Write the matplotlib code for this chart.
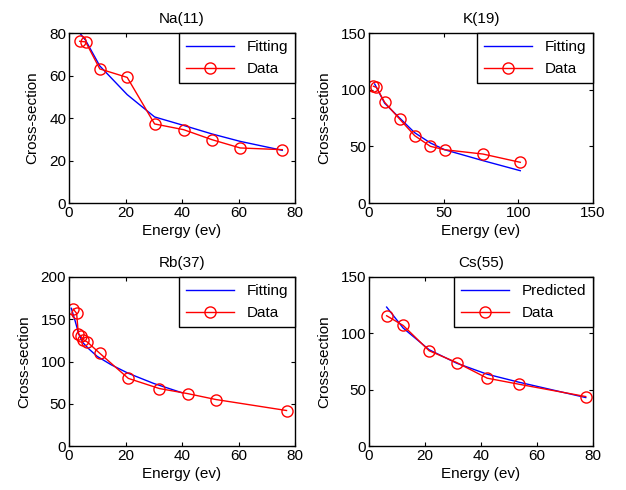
import matplotlib
matplotlib.use("Agg")
import matplotlib.pyplot as plt

plt.rcParams['font.family'] = ['Liberation Sans', 'DejaVu Sans']

# Na(11)
na_data_x = [3.8, 5.9, 10.9, 20.6, 30.3, 40.6, 50.6, 60.6, 75.5]
na_data_y = [76.1, 75.8, 63.1, 59.1, 37.2, 34.5, 29.8, 25.9, 25.1]
na_fit_x = [3.8, 5.9, 10.9, 20.6, 30.3, 40.6, 50.6, 60.6, 75.5]
na_fit_y = [80.0, 76.5, 64.5, 51.0, 40.5, 36.5, 32.5, 29.0, 24.8]

# K(19)
k_data_x = [3.0, 5.0, 10.5, 20.5, 30.6, 41.1, 50.7, 76.3, 101.3]
k_data_y = [103.0, 102.0, 88.8, 74.1, 59.4, 50.0, 47.0, 43.2, 35.9]
k_fit_x = [3.8, 10.5, 20.5, 30.6, 41.1, 50.7, 76.3, 101.3]
k_fit_y = [105.0, 88.0, 75.0, 62.0, 53.0, 47.0, 37.4, 28.5]

# Rb(37)
rb_data_x = [1.5, 2.7, 3.3, 4.2, 5.0, 6.5, 10.8, 21.0, 32.0, 42.0, 52.0, 77.0]
rb_data_y = [162, 157, 133, 130, 126, 123, 110, 80, 68, 62, 55, 42]
rb_fit_x = [0.8, 2.0, 3.5, 5.0, 7.0, 10.0, 15.0, 21.0, 30.0, 40.0]
rb_fit_y = [163, 150, 132, 122, 115, 106, 96, 86, 74, 63]

# Cs(55)
cs_data_x = [6.3, 12.2, 21.5, 31.3, 42.2, 53.6, 77.4]
cs_data_y = [115.6, 107.0, 84.5, 74.1, 60.2, 54.8, 43.9]
cs_pred_x = [6.3, 12.2, 21.5, 31.3, 42.2, 53.6, 77.4]
cs_pred_y = [123.3, 104.7, 85.4, 73.5, 63.7, 56.6, 43.0]

panels = [
    ("Na(11)", na_fit_x, na_fit_y, na_data_x, na_data_y, "Fitting", (0, 80), [0, 20, 40, 60, 80], (0, 80), [0, 20, 40, 60, 80]),
    ("K(19)", k_fit_x, k_fit_y, k_data_x, k_data_y, "Fitting", (0, 150), [0, 50, 100, 150], (0, 150), [0, 50, 100, 150]),
    ("Rb(37)", rb_fit_x, rb_fit_y, rb_data_x, rb_data_y, "Fitting", (0, 80), [0, 20, 40, 60, 80], (0, 200), [0, 50, 100, 150, 200]),
    ("Cs(55)", cs_pred_x, cs_pred_y, cs_data_x, cs_data_y, "Predicted", (0, 80), [0, 20, 40, 60, 80], (0, 150), [0, 50, 100, 150]),
]

W, H = 626, 490
fig = plt.figure(figsize=(W / 100, H / 100), dpi=100)
boxes = [(69, 33, 295, 203), (369, 33, 593, 203), (69, 277, 295, 446), (369, 277, 593, 446)]

FS = 11
for (title, fx, fy, dx, dy, flabel, xl, xt, yl, yt), (x0, y0, x1, y1) in zip(panels, boxes):
    ax = fig.add_axes([x0 / W, 1 - y1 / H, (x1 - x0) / W, (y1 - y0) / H])
    ax.plot(fx, fy, color='blue', lw=1, label=flabel)
    ax.plot(dx, dy, color='red', lw=1, marker='o', mfc='none', mec='red', ms=8, mew=1, label='Data')
    ax.set_xlim(*xl)
    ax.set_xticks(xt)
    ax.set_ylim(*yl)
    ax.set_yticks(yt)
    ax.tick_params(direction='in', top=True, right=True, labelsize=FS, length=3, width=0.8, pad=2)
    for s in ax.spines.values():
        s.set_linewidth(1)
    ax.set_title(title, fontsize=FS, pad=7)
    ax.set_xlabel("Energy (ev)", fontsize=FS, labelpad=3)
    ax.set_ylabel("Cross-section", fontsize=FS, labelpad=7)
    leg = ax.legend(loc='upper right', borderaxespad=0, fancybox=False, fontsize=FS,
                    handlelength=3.2, framealpha=1, edgecolor='black',
                    borderpad=0.45, labelspacing=0.55)
    leg.get_frame().set_linewidth(1)

fig.savefig("out.png", dpi=100)
